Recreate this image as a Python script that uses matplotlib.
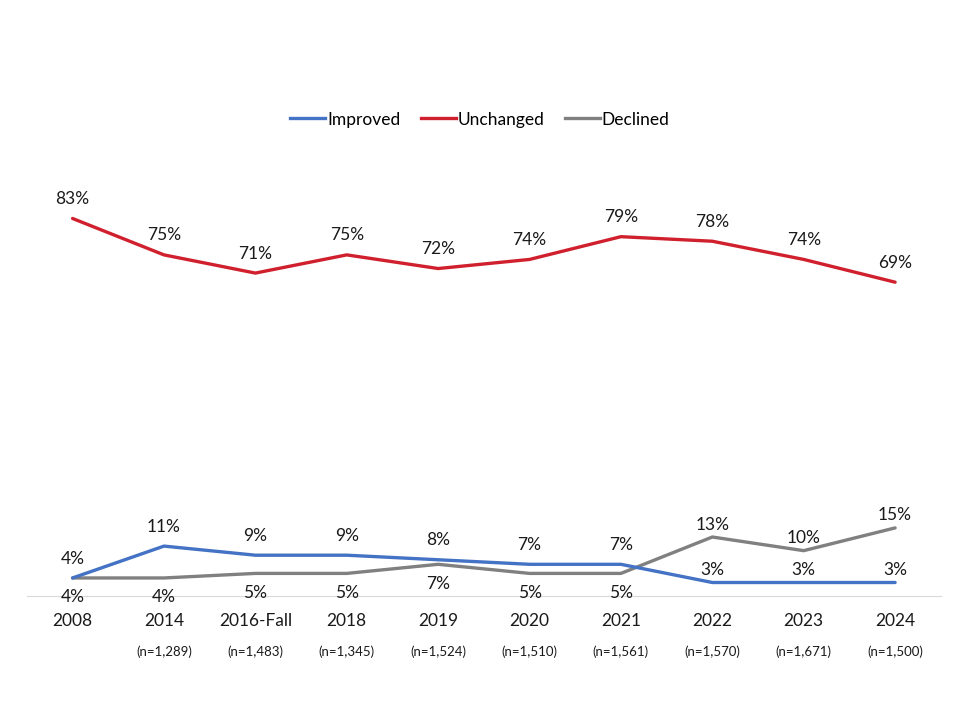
import matplotlib
matplotlib.use("Agg")
import matplotlib.pyplot as plt
from matplotlib.lines import Line2D

plt.rcParams["font.family"] = ["Lato", "DejaVu Sans"]

# ── Data ─────────────────────────────────────────────────────────────────────
years = ["2008", "2014", "2016-Fall", "2018", "2019", "2020", "2021", "2022", "2023", "2024"]
sample_sizes = ["", "(n=1,289)", "(n=1,483)", "(n=1,345)", "(n=1,524)", "(n=1,510)",
                "(n=1,561)", "(n=1,570)", "(n=1,671)", "(n=1,500)"]
improved = [4, 11, 9, 9, 8, 7, 7, 3, 3, 3]
unchanged = [83, 75, 71, 75, 72, 74, 79, 78, 74, 69]
declined = [4, 4, 5, 5, 7, 5, 5, 13, 10, 15]

BLUE = "#4472C4"
RED = "#D0202D"
GREY = "#808080"
CROSS = 7  # from 2022 on, declined sits above improved

fig = plt.figure(figsize=(9.6, 7.2), dpi=100)
ax = fig.add_axes([0.028, 0.172, 0.952, 0.632])
x = list(range(len(years)))

ax.plot(x, unchanged, color=RED, lw=2.4, solid_capstyle="round", zorder=3)
ax.plot(x, declined, color=GREY, lw=2.4, solid_capstyle="round", zorder=3)
ax.plot(x, improved, color=BLUE, lw=2.4, solid_capstyle="round", zorder=4)

lab = dict(ha="center", va="center", fontsize=12.5, color="#1a1a1a",
           textcoords="offset points")
for i in x:
    late = i >= CROSS
    ax.annotate(f"{unchanged[i]}%", (i, unchanged[i]), xytext=(0, 14), **lab)
    ax.annotate(f"{improved[i]}%", (i, improved[i]), xytext=(0, 9 if late else 14), **lab)
    ax.annotate(f"{declined[i]}%", (i, declined[i]), xytext=(0, 9 if late else -14), **lab)

ax.set_xlim(-0.5, len(years) - 0.5)
ax.set_ylim(0, 100)
for s in ["top", "right", "left"]:
    ax.spines[s].set_visible(False)
ax.spines["bottom"].set_color("#D9D9D9")
ax.spines["bottom"].set_linewidth(0.8)
ax.set_yticks([])
ax.set_xticks(x)
ax.set_xticklabels(years, fontsize=12.5, color="#1a1a1a")
ax.tick_params(axis="x", length=0, pad=12)

for i, n in enumerate(sample_sizes):
    if n:
        ax.annotate(n, (i, 0), xycoords=("data", "axes fraction"), xytext=(0, -40),
                    textcoords="offset points", ha="center", va="center",
                    fontsize=9.5, color="#1a1a1a")

handles = [Line2D([0], [0], color=BLUE, lw=2.4),
           Line2D([0], [0], color=RED, lw=2.4),
           Line2D([0], [0], color=GREY, lw=2.4)]
fig.legend(handles, ["Improved", "Unchanged", "Declined"], loc="center",
           bbox_to_anchor=(0.5, 0.834), ncol=3, frameon=False, fontsize=12.5,
           handlelength=2.0, handletextpad=0.1, columnspacing=1.2)

fig.savefig("out.png", dpi=100, facecolor="white")
